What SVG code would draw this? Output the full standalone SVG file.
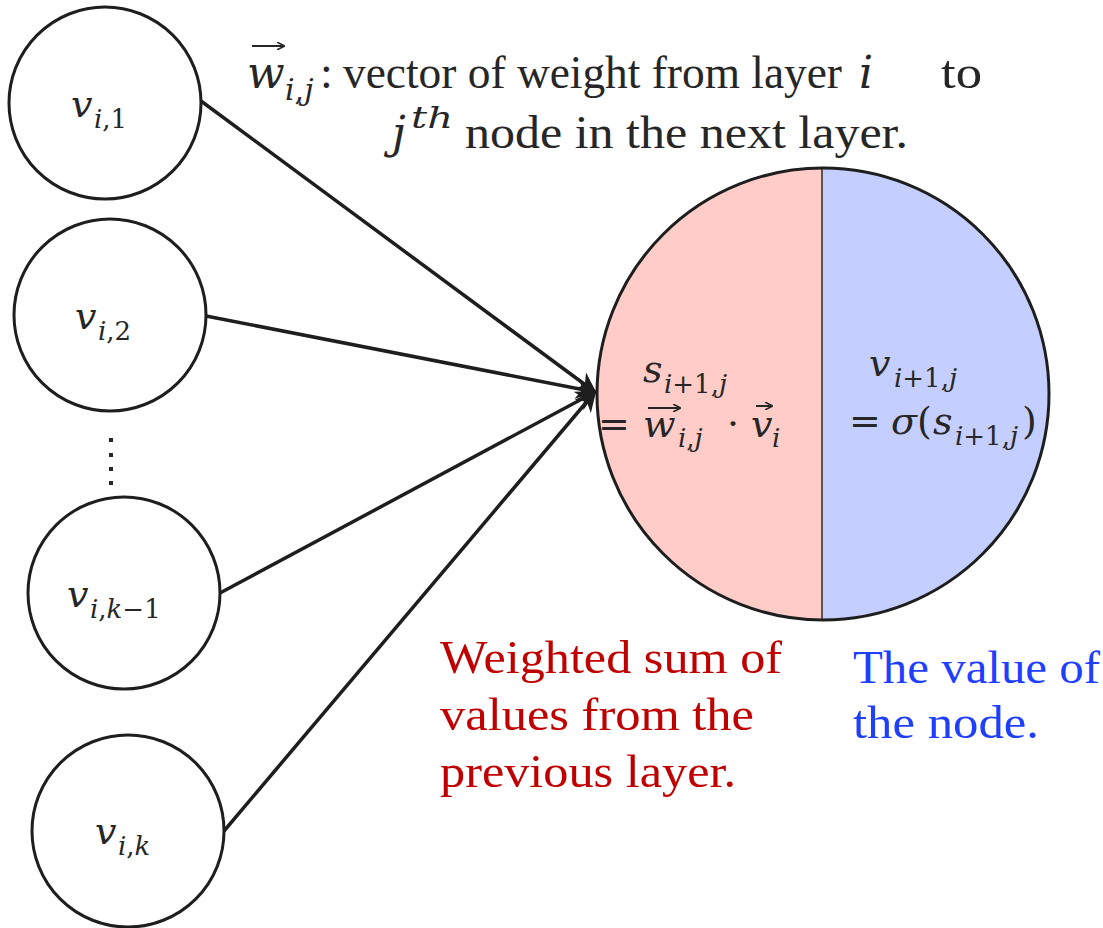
<svg xmlns="http://www.w3.org/2000/svg" width="1103" height="928" viewBox="0 0 1103 928">
<defs>
<style>
.node{fill:#fff;stroke:#1e1e1e;stroke-width:3}
.edge{stroke:#1e1e1e;stroke-width:3.5;fill:none}
.t{font-family:"Liberation Serif","DejaVu Serif",serif;font-size:46px;fill:#262626}
.m{font-family:"DejaVu Serif","Liberation Serif",serif;font-style:italic;fill:#262626}
.mr{font-family:"DejaVu Serif","Liberation Serif",serif;font-style:normal;fill:#262626}
.acc{stroke:#262626;stroke-width:2;fill:none}
</style>
<marker id="ah" viewBox="0 0 10 10" refX="9" refY="5" markerWidth="6" markerHeight="6" orient="auto" markerUnits="strokeWidth">
<path d="M0,0 L10,5 L0,10 L3,5 Z" fill="#1e1e1e"/>
</marker>
<marker id="acch" viewBox="0 0 10 10" refX="9" refY="5" markerWidth="4" markerHeight="4" orient="auto" markerUnits="strokeWidth">
<path d="M0,0 L10,5 L0,10" fill="none" stroke="#262626" stroke-width="2"/>
</marker>
</defs>
<rect width="1103" height="928" fill="#fff"/>

<g id="connectors">
<line class="edge" x1="201" y1="101" x2="595" y2="392" marker-end="url(#ah)"/>
<line class="edge" x1="206" y1="316" x2="595" y2="392" marker-end="url(#ah)"/>
<line class="edge" x1="220" y1="593" x2="595" y2="392" marker-end="url(#ah)"/>
<line class="edge" x1="224" y1="831" x2="595" y2="392" marker-end="url(#ah)"/>
</g>

<g id="node-v1">
<circle class="node" cx="105" cy="103" r="96"/>
<text class="m" x="71" y="117" font-size="38">v</text>
<text class="m" x="94" y="128" font-size="26">i<tspan class="mr">,1</tspan></text>
</g>
<g id="node-v2">
<circle class="node" cx="110" cy="315" r="96"/>
<text class="m" x="75" y="329" font-size="38">v</text>
<text class="m" x="98" y="340" font-size="26">i<tspan class="mr">,2</tspan></text>
</g>
<g id="dots">
<rect x="109" y="438" width="4" height="4" fill="#262626"/>
<rect x="109" y="453" width="4" height="4" fill="#262626"/>
<rect x="109" y="467" width="4" height="4" fill="#262626"/>
<rect x="109" y="481" width="4" height="4" fill="#262626"/>
</g>
<g id="node-vk1">
<circle class="node" cx="124" cy="593" r="96"/>
<text class="m" x="67" y="607" font-size="38">v</text>
<text class="m" x="90" y="618" font-size="26">i<tspan class="mr">,</tspan>k<tspan class="mr">−1</tspan></text>
</g>
<g id="node-vk">
<circle class="node" cx="128" cy="831" r="96"/>
<text class="m" x="95" y="844" font-size="38">v</text>
<text class="m" x="118" y="855" font-size="26">i<tspan class="mr">,</tspan>k</text>
</g>

<g id="node-next">
<path d="M822,168 A226,226 0 0 0 822,620 Z" fill="#ffccc8"/>
<path d="M822,168 A226,226 0 0 1 822,620 Z" fill="#c5cfff"/>
<line x1="822" y1="168" x2="822" y2="620" stroke="#555" stroke-width="2"/>
<circle cx="823" cy="394" r="226" fill="none" stroke="#1e1e1e" stroke-width="3"/>
<text class="m" x="643" y="382" font-size="38">s</text>
<text class="m" x="664" y="393" font-size="26">i<tspan class="mr">+1,</tspan>j</text>
<text class="mr" x="598" y="437" font-size="38">=</text>
<text class="m" x="643" y="437" font-size="38">w</text>
<line class="acc" x1="648" y1="408" x2="680" y2="408" marker-end="url(#acch)"/>
<text class="m" x="678" y="447" font-size="26">i<tspan class="mr">,</tspan>j</text>
<text class="mr" x="727" y="437" font-size="38">·</text>
<text class="m" x="751" y="437" font-size="38">v</text>
<line class="acc" x1="756" y1="406" x2="772" y2="406" marker-end="url(#acch)"/>
<text class="m" x="772" y="447" font-size="26">i</text>
<text class="m" x="869" y="376" font-size="38">v</text>
<text class="m" x="894" y="387" font-size="26">i<tspan class="mr">+1,</tspan>j</text>
<text class="mr" x="849" y="434" font-size="38">=</text>
<text class="m" x="891" y="434" font-size="38">σ</text>
<text class="mr" x="917" y="434" font-size="38">(</text>
<text class="m" x="933" y="434" font-size="38">s</text>
<text class="m" x="955" y="445" font-size="26">i<tspan class="mr">+1,</tspan>j</text>
<text class="mr" x="1022" y="434" font-size="38">)</text>
</g>

<g id="title">
<text class="m" x="247" y="88" font-size="44">w</text>
<line class="acc" x1="252" y1="46" x2="284" y2="46" marker-end="url(#acch)"/>
<text class="m" x="285" y="100" font-size="30">i<tspan class="mr">,</tspan>j</text>
<text class="t" x="320" y="88">:</text>
<text class="t" x="343" y="88" textLength="499" lengthAdjust="spacingAndGlyphs">vector of weight from layer</text>
<text class="m" x="859" y="88" font-size="44">i</text>
<text class="t" x="941" y="88" textLength="41" lengthAdjust="spacingAndGlyphs">to</text>
<text class="m" x="392" y="148" font-size="44">j</text>
<text class="m" x="411" y="128" font-size="30" textLength="42" lengthAdjust="spacingAndGlyphs">th</text>
<text class="t" x="465" y="148" textLength="443" lengthAdjust="spacingAndGlyphs">node in the next layer.</text>
</g>

<g id="label-sum" fill="#c00000" font-family="Liberation Serif, DejaVu Serif, serif" font-size="46">
<text x="440" y="673" textLength="342" lengthAdjust="spacingAndGlyphs">Weighted sum of</text>
<text x="440" y="730" textLength="314" lengthAdjust="spacingAndGlyphs">values from the</text>
<text x="440" y="787" textLength="296" lengthAdjust="spacingAndGlyphs">previous layer.</text>
</g>
<g id="label-value" fill="#1f3fff" font-family="Liberation Serif, DejaVu Serif, serif" font-size="46">
<text x="853" y="683" textLength="247" lengthAdjust="spacingAndGlyphs">The value of</text>
<text x="853" y="738" textLength="186" lengthAdjust="spacingAndGlyphs">the node.</text>
</g>
</svg>
